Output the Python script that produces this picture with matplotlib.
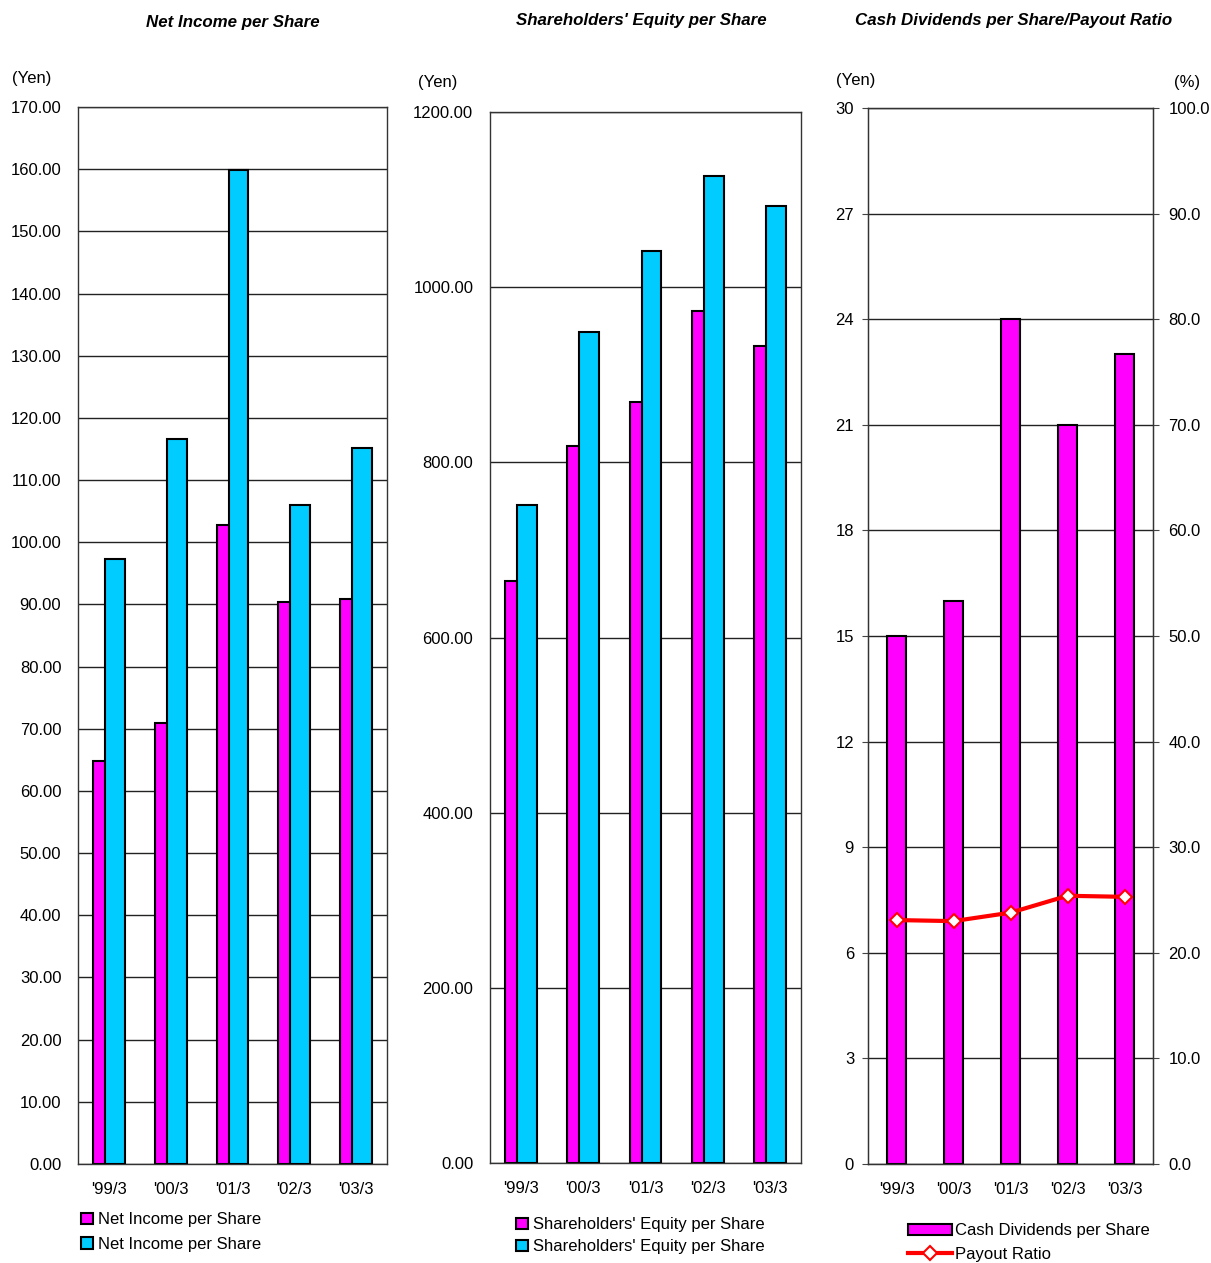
import matplotlib
matplotlib.use('Agg')
import matplotlib.pyplot as plt
import numpy as np

plt.rcParams['font.family'] = ['Liberation Sans', 'DejaVu Sans']

# data
years = ["'99/3", "'00/3", "'01/3", "'02/3", "'03/3"]
net_income_a = [64.8, 70.9, 102.8, 90.4, 90.9]
net_income_b = [97.3, 116.6, 159.9, 106.0, 115.2]
equity_a = [664.5, 818.7, 869.0, 972.8, 932.8]
equity_b = [751.0, 948.8, 1041.0, 1127.0, 1092.7]
dividends = [15, 16, 24, 21, 23]
payout = [23.1, 23.0, 23.8, 25.4, 25.3]

MAG = '#FF00FF'
CYAN = '#00CCFF'
W, H = 1211, 1263
fs = 12

fig = plt.figure(figsize=(W / 100, H / 100), dpi=100)


def box(l, t, r, b):
    return [l / W, 1 - b / H, (r - l) / W, (b - t) / H]


def style(ax):
    ax.set_xlim(-0.5, 4.5)
    ax.set_xticks(np.arange(5))
    ax.set_xticklabels(years, fontsize=fs)
    ax.tick_params(axis='x', length=0, pad=13)
    ax.tick_params(axis='y', labelsize=fs, length=4, color='#444444')
    ax.grid(axis='y', color='#222222', linewidth=1)
    ax.set_axisbelow(True)
    for s in ax.spines.values():
        s.set_color('#333333')
        s.set_linewidth(1)


x = np.arange(5)
bw = 0.32
off = 0.097

# chart 1
ax1 = fig.add_axes(box(78, 107, 387, 1164))
ax1.bar(x - off, net_income_a, bw, color=MAG, edgecolor='black', linewidth=1.5,
        label='Net Income per Share', zorder=2)
ax1.bar(x + off, net_income_b, bw, color=CYAN, edgecolor='black', linewidth=1.5,
        label='Net Income per Share', zorder=3)
ax1.set_ylim(0, 170)
ax1.set_yticks(np.arange(0, 171, 10))
ax1.set_yticklabels(['%.2f' % v for v in np.arange(0, 171, 10)])
style(ax1)
ax1.tick_params(axis='y', length=0, pad=12)
ax1.legend(loc='upper left', bbox_to_anchor=(73 / W, 1 - 1204 / H), bbox_transform=fig.transFigure,
           frameon=False, fontsize=fs, borderpad=0, handlelength=0.7, handleheight=0.7,
           handletextpad=0.3, labelspacing=0.55)

# chart 2
ax2 = fig.add_axes(box(490, 112, 801, 1163))
ax2.bar(x - off, equity_a, bw, color=MAG, edgecolor='black', linewidth=1.5,
        label="Shareholders' Equity per Share", zorder=2)
ax2.bar(x + off, equity_b, bw, color=CYAN, edgecolor='black', linewidth=1.5,
        label="Shareholders' Equity per Share", zorder=3)
ax2.set_ylim(0, 1200)
ax2.set_yticks(np.arange(0, 1201, 200))
ax2.set_yticklabels(['%.2f' % v for v in np.arange(0, 1201, 200)])
style(ax2)
ax2.tick_params(axis='y', length=0, pad=12)
ax2.legend(loc='upper left', bbox_to_anchor=(508 / W, 1 - 1209 / H), bbox_transform=fig.transFigure,
           frameon=False, fontsize=fs, borderpad=0, handlelength=0.7, handleheight=0.7,
           handletextpad=0.3, labelspacing=0.42)

# chart 3
ax3 = fig.add_axes(box(868, 108, 1153, 1164))
ax3.bar(x, dividends, 0.333, color=MAG, edgecolor='black', linewidth=1.5,
        label='Cash Dividends per Share', zorder=2)
ax3.set_ylim(0, 30)
ax3.set_yticks(np.arange(0, 31, 3))
style(ax3)
ax3.tick_params(axis='y', pad=6)
ax3r = ax3.twinx()
ax3r.plot(x, payout, color='red', linewidth=3, marker='D', markersize=7,
          markerfacecolor='white', markeredgecolor='red', markeredgewidth=1.5,
          label='Payout Ratio', zorder=4)
ax3r.set_ylim(0, 100)
ax3r.set_yticks(np.arange(0, 101, 10))
ax3r.set_yticklabels(['%.1f' % v for v in np.arange(0, 101, 10)])
ax3r.tick_params(axis='y', labelsize=fs, length=4, color='#444444', pad=7)
for s in ax3r.spines.values():
    s.set_color('#333333')
h1, l1 = ax3.get_legend_handles_labels()
h2, l2 = ax3r.get_legend_handles_labels()
ax3r.legend(h1 + h2, l1 + l2, loc='upper left', bbox_to_anchor=(900 / W, 1 - 1215 / H),
            bbox_transform=fig.transFigure, frameon=False, fontsize=fs, borderpad=0,
            handlelength=2.6, handleheight=0.6, handletextpad=0.2, labelspacing=0.5)

# titles and unit labels
tkw = dict(fontsize=12.2, fontweight='bold', fontstyle='italic', ha='center', va='center')
fig.text(233 / W, 1 - 22 / H, 'Net Income per Share', **tkw)
fig.text(641 / W, 1 - 21 / H, "Shareholders' Equity per Share", **tkw)
fig.text(1014 / W, 1 - 21 / H, 'Cash Dividends per Share/Payout Ratio', **tkw)

fig.text(12 / W, 1 - 78 / H, '(Yen)', fontsize=fs, va='center')
fig.text(418 / W, 1 - 82 / H, '(Yen)', fontsize=fs, va='center')
fig.text(836 / W, 1 - 80 / H, '(Yen)', fontsize=fs, va='center')
fig.text(1174 / W, 1 - 83 / H, '(%)', fontsize=fs, va='center')

fig.savefig('out.png', dpi=100)
